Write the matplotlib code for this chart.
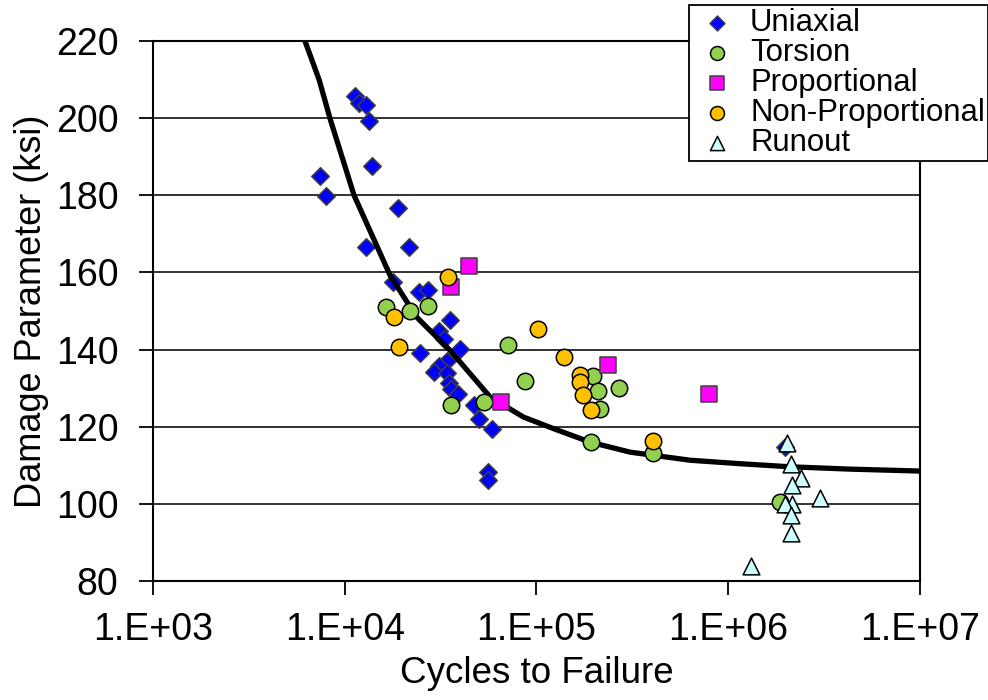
import matplotlib.pyplot as plt
from matplotlib.ticker import FixedLocator, NullLocator

plt.rcParams['font.family'] = ['Liberation Sans', 'DejaVu Sans']

# test data: cycles to failure and damage parameter (ksi)
uni_n = [11300, 11800, 12900, 13330, 13870, 7420, 7950, 18900, 12900, 21700,
         17800, 24500, 27200, 35400, 31000, 33100, 40000, 24700, 34300, 31000,
         29300, 34300, 34900, 35900, 39100, 47400, 50200, 58900, 55700, 55700,
         1990000]
uni_s = [205.7, 203.8, 203.3, 199.3, 187.7, 184.9, 179.7, 176.7, 166.7, 166.7,
         157.4, 154.9, 155.4, 147.6, 144.7, 142.8, 140.1, 139.2, 137.1, 135.7,
         134.2, 133.9, 131.4, 129.9, 128.6, 125.6, 122.1, 119.5, 108.3, 106.3,
         114.7]

tor_n = [16360, 21900, 27300, 71400, 87300, 35700, 53500, 196000, 209000,
         268000, 215000, 192000, 403000, 1870000]
tor_s = [151.0, 150.0, 151.3, 141.3, 131.9, 125.6, 126.4, 133.2, 129.3,
         130.1, 124.5, 116.0, 113.2, 100.5]

prop_n = [44200, 35900, 65400, 236000, 791000]
prop_s = [161.6, 156.1, 126.4, 136.1, 128.6]

nonp_n = [34700, 18060, 19190, 102400, 139600, 167800, 167800, 175900,
          192300, 403000]
nonp_s = [158.7, 148.4, 140.7, 145.3, 138.1, 133.3, 131.5, 128.1, 124.3,
          116.2]

run_n = [2030000, 2130000, 2400000, 2160000, 3000000, 2150000, 1970000,
         2140000, 2140000, 1310000]
run_s = [115.8, 110.3, 106.8, 104.8, 101.6, 99.9, 99.9, 97.0, 92.5, 83.9]

# fitted life curve
fit_n = [6195, 7360, 8370, 11170, 17200, 23700, 35400, 57300, 85500, 122700,
         190600, 308000, 635000, 1160000, 2110000, 4350000, 10000000]
fit_s = [220.0, 209.8, 199.9, 180.0, 159.3, 148.4, 139.8, 127.7, 122.5, 119.5,
         116.0, 113.4, 111.3, 110.4, 109.6, 109.0, 108.5]

xticks = [1e3, 1e4, 1e5, 1e6, 1e7]
xtick_labels = ['1.E+03', '1.E+04', '1.E+05', '1.E+06', '1.E+07']
yticks = [80, 100, 120, 140, 160, 180, 200, 220]

fig = plt.figure(figsize=(9.88, 7.0), dpi=100)
ax = fig.add_axes([0.155, 0.170, 0.776, 0.7715])

for y in yticks:
    ax.axhline(y, color='#222222', lw=1.3, zorder=0)

ax.scatter(uni_n, uni_s, marker='D', s=80, c='#0000FF', edgecolors='#404040',
           linewidths=1.1, zorder=2, label='Uniaxial')
ax.plot(fit_n, fit_s, color='black', lw=3.8, zorder=3, solid_capstyle='butt')
ax.scatter(tor_n, tor_s, marker='o', s=140, c='#92D050', edgecolors='black',
           linewidths=1.1, zorder=4, label='Torsion')
ax.scatter(prop_n, prop_s, marker='s', s=125, c='#FF00FF', edgecolors='#404040',
           linewidths=1.1, zorder=5, label='Proportional')
ax.scatter(nonp_n, nonp_s, marker='o', s=140, c='#FFC000', edgecolors='black',
           linewidths=1.1, zorder=6, label='Non-Proportional')
ax.scatter(run_n, run_s, marker='^', s=145, c='#CCFFFF', edgecolors='black',
           linewidths=1.1, zorder=7, label='Runout')

ax.set_xscale('log')
ax.set_xlim(1e3, 1e7)
ax.set_ylim(80, 220)
ax.xaxis.set_major_locator(FixedLocator(xticks))
ax.xaxis.set_minor_locator(NullLocator())
ax.set_xticklabels(xtick_labels)
ax.set_yticks(yticks)

ax.tick_params(axis='both', direction='out', length=10, width=1.3,
               labelsize=27, color='black')
ax.tick_params(axis='y', pad=15)
ax.tick_params(axis='x', pad=12)
for sp in ax.spines.values():
    sp.set_linewidth(1.5)
    sp.set_color('black')

ax.set_xlabel('Cycles to Failure', fontsize=26.5, labelpad=6)
ax.set_ylabel('Damage Parameter (ksi)', fontsize=26, labelpad=5)

leg = fig.legend(loc='upper right', bbox_to_anchor=(1.0, 0.993), fontsize=22.4,
                 frameon=True, fancybox=False, edgecolor='black',
                 framealpha=1, borderpad=0.1, labelspacing=0.0,
                 handlelength=1.6, handletextpad=0.25, borderaxespad=0,
                 markerscale=0.85)
leg.get_frame().set_linewidth(1.3)
leg.set_zorder(10)

fig.savefig('out.png', dpi=100)
